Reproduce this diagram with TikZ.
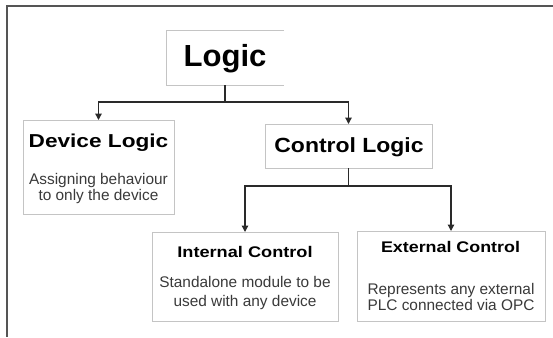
\documentclass[tikz,border=0pt]{standalone}
\usepackage{fontspec}
\usepackage{graphicx}
\setmainfont{Liberation Sans}
\usetikzlibrary{arrows.meta}
\definecolor{framegray}{HTML}{555555}
\definecolor{boxgray}{HTML}{C4C4C4}
\definecolor{linegray}{HTML}{2A2A2A}
\definecolor{descgray}{HTML}{3A3A3A}
\tikzset{
  boxnode/.style={draw=boxgray, line width=1pt, inner sep=0pt, outer sep=0pt, fill=white},
  conn/.style={draw=linegray, line width=1.3pt},
  arr/.style={conn, -{Triangle[width=6.5pt,length=6.5pt]}},
  titletext/.style={anchor=base, inner sep=0pt, text=black},
  desctext/.style={anchor=base, inner sep=0pt, text=descgray},
}
\newcommand{\ttl}[3]{{\fontsize{#1}{#1}\selectfont\bfseries\scalebox{#2}[1]{#3}}}
\newcommand{\dsc}[1]{{\fontsize{15.4}{15.4}\selectfont #1}}
\begin{document}
\begin{tikzpicture}[x=1pt,y=-1pt]
\useasboundingbox (0,0) rectangle (553,337);
% outer frame (partial)
\draw[framegray, line width=2pt] (553,6.5) -- (6.5,6.5) -- (6.5,337);

% boxes
\node[boxnode, draw=none, minimum width=118pt, minimum height=54pt] (logic) at (225,58) {};
\draw[boxgray, line width=1pt] (logic.north east) -- (logic.north west) -- (logic.south west) -- (logic.south east);
\node[boxnode, minimum width=151pt, minimum height=94pt] (dev) at (98.5,167) {};
\node[boxnode, minimum width=167pt, minimum height=44pt] (ctl) at (348.5,146) {};
\node[boxnode, minimum width=186pt, minimum height=89pt] (int) at (245,276.5) {};
\node[boxnode, minimum width=188pt, minimum height=90pt] (ext) at (451,276) {};

% texts
\node[titletext] (tlogic) at (225,66.7) {\ttl{30.5}{1.02}{Logic}};
\node[titletext] (tdev) at (98.5,147.7) {\ttl{18.7}{1.21}{Device Logic}};
\node[desctext] (ddev1) at (98.5,184.3) {\dsc{Assigning behaviour}};
\node[desctext] (ddev2) at (98.5,200.3) {\dsc{to only the device}};
\node[titletext] (tctl) at (349,152.5) {\ttl{20.5}{1.12}{Control Logic}};
\node[titletext] (tint) at (245,257) {\ttl{15.4}{1.18}{Internal Control}};
\node[desctext] (dint1) at (245,287.7) {\dsc{Standalone module to be}};
\node[desctext] (dint2) at (245,306.7) {\dsc{used with any device}};
\node[titletext] (text) at (450.5,252.7) {\ttl{15.4}{1.16}{External Control}};
\node[desctext] (dext1) at (451,294.3) {\dsc{Represents any external}};
\node[desctext] (dext2) at (451,310.3) {\dsc{PLC connected via OPC}};

% connectors
\coordinate (j1) at (225,102);
\coordinate (j2) at (348.5,186);
\draw[conn] (logic.south) -- (j1);
\draw[arr] (j1) -| (dev.north);
\draw[arr] (j1) -| (ctl.north);
\draw[conn] (ctl.south) -- (j2);
\draw[arr] (j2) -| (int.north);
\draw[arr] (j2) -| (ext.north);
\end{tikzpicture}
\end{document}
